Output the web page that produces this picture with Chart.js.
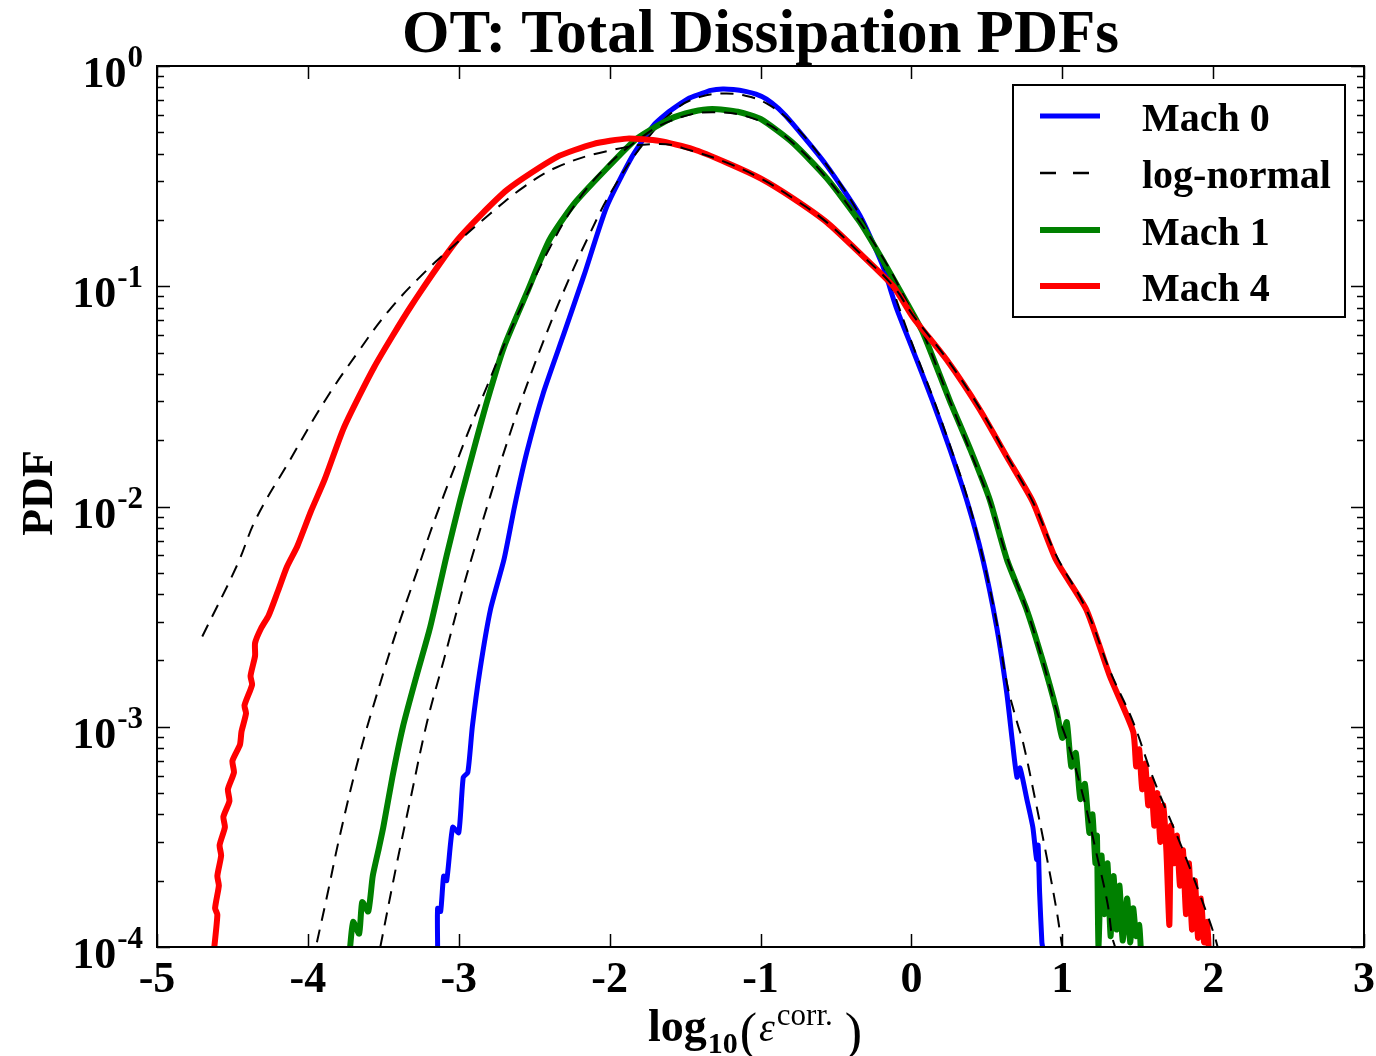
<!DOCTYPE html>
<html>
<head>
<meta charset="utf-8">
<title>OT: Total Dissipation PDFs</title>
<script src="https://cdn.jsdelivr.net/npm/chart.js@4.4.1/dist/chart.umd.min.js"></script>
<style>
  html, body { margin: 0; padding: 0; background: #fff; }
  canvas { display: block; }
</style>
</head>
<body>
<canvas id="pdfChart" width="1376" height="1056"></canvas>
<script>
// values (x = log10 eps, y = PDF)
const mach0X = [-3.14, -3.14, -3.12, -3.10, -3.08, -3.04, -3.00, -2.97, -2.94, -2.91, -2.86, -2.79, -2.70, -2.63, -2.55, -2.44, -2.30, -2.17, -2.02, -1.85, -1.71, -1.62, -1.55, -1.48, -1.40, -1.33, -1.25, -1.18, -1.10, -1.03, -0.96, -0.88, -0.79, -0.56, -0.34, -0.19, -0.10, 0.01, 0.14, 0.255, 0.37, 0.47, 0.566, 0.633, 0.67, 0.70, 0.72, 0.765, 0.805, 0.83, 0.84, 0.85, 0.865, 0.87];
const mach0Y = [1.0e-4, 1.5e-4, 1.45e-4, 2.1e-4, 2.0e-4, 3.5e-4, 3.3e-4, 5.9e-4, 6.2e-4, 1.0e-3, 1.8e-3, 3.4e-3, 5.75e-3, 1.0e-2, 1.75e-2, 3.27e-2, 6.17e-2, 0.112, 0.229, 0.389, 0.537, 0.61, 0.661, 0.71, 0.745, 0.775, 0.787, 0.782, 0.767, 0.745, 0.708, 0.64, 0.55, 0.352, 0.209, 0.124, 0.080, 0.0513, 0.0302, 0.0182, 0.0105, 0.0059, 0.00282, 0.00141, 8.5e-4, 5.9e-4, 6.5e-4, 4.7e-4, 3.5e-4, 2.5e-4, 2.9e-4, 1.76e-4, 1.05e-4, 1.0e-4];

const fit0X = [-3.52, -3.41, -3.32, -3.21, -3.10, -2.97, -2.90, -2.79, -2.68, -2.57, -2.44, -2.29, -2.13, -1.98, -1.75, -1.55, -1.40, -1.25, -1.10, -0.96, -0.79, -0.56, -0.34, -0.19, 0.01, 0.14, 0.255, 0.37, 0.47, 0.566, 0.633, 0.70, 0.74, 0.82, 0.90, 0.96, 0.985, 1.0];
const fit0Y = [1.0e-4, 2.4e-4, 4.7e-4, 1.05e-3, 2.0e-3, 4.3e-3, 6.3e-3, 1.12e-2, 1.95e-2, 3.24e-2, 5.6e-2, 0.100, 0.174, 0.275, 0.468, 0.646, 0.724, 0.750, 0.733, 0.676, 0.55, 0.355, 0.209, 0.126, 0.0537, 0.0316, 0.019, 0.011, 0.0060, 0.00295, 0.00158, 1.05e-3, 8.5e-4, 4.7e-4, 2.5e-4, 1.5e-4, 1.17e-4, 1.0e-4];

const mach1X = [-3.72, -3.70, -3.66, -3.64, -3.60, -3.57, -3.53, -3.50, -3.44, -3.37, -3.28, -3.19, -3.08, -2.99, -2.90, -2.81, -2.70, -2.55, -2.40, -2.24, -2.04, -1.82, -1.60, -1.45, -1.32, -1.15, -1.00, -0.785, -0.56, -0.34, -0.18, -0.03, 0.076, 0.255, 0.39, 0.52, 0.633, 0.765, 0.87, 0.96, 1.00, 1.03, 1.06, 1.09, 1.12, 1.15, 1.18, 1.20, 1.22, 1.23, 1.24, 1.26, 1.28, 1.30, 1.32, 1.34, 1.36, 1.38, 1.40, 1.43, 1.45, 1.47, 1.49, 1.51, 1.52];
const mach1Y = [1.0e-4, 1.3e-4, 1.15e-4, 1.6e-4, 1.45e-4, 2.1e-4, 2.8e-4, 3.5e-4, 5.9e-4, 1.0e-3, 1.7e-3, 2.82e-3, 6.0e-3, 1.07e-2, 1.82e-2, 3.04e-2, 5.3e-2, 9.3e-2, 0.162, 0.235, 0.331, 0.468, 0.575, 0.62, 0.638, 0.62, 0.575, 0.447, 0.309, 0.195, 0.128, 0.084, 0.0617, 0.0302, 0.0182, 0.0107, 0.00575, 0.00339, 0.0020, 0.0012, 8.9e-4, 1.05e-3, 6.6e-4, 7.6e-4, 4.7e-4, 5.5e-4, 3.3e-4, 4.0e-4, 2.4e-4, 3.2e-4, 1.0e-4, 2.6e-4, 1.41e-4, 2.4e-4, 1.12e-4, 2.1e-4, 1.2e-4, 1.9e-4, 1.07e-4, 1.66e-4, 1.05e-4, 1.5e-4, 1.12e-4, 1.26e-4, 1.0e-4];

const fit1X = [-3.94, -3.87, -3.79, -3.655, -3.52, -3.41, -3.28, -3.19, -3.10, -3.01, -2.93, -2.81, -2.70, -2.55, -2.40, -2.24, -2.04, -1.82, -1.60, -1.32, -1.00, -0.785, -0.56, -0.34, -0.163, -0.03, 0.076, 0.255, 0.39, 0.52, 0.633, 0.765, 0.87, 0.96, 1.05, 1.14, 1.23, 1.30, 1.33, 1.35];
const fit1Y = [1.05e-4, 1.74e-4, 3.16e-4, 7.6e-4, 1.58e-3, 2.75e-3, 5.0e-3, 7.6e-3, 1.12e-2, 1.62e-2, 2.24e-2, 3.55e-2, 5.4e-2, 9.1e-2, 0.148, 0.229, 0.339, 0.457, 0.562, 0.617, 0.562, 0.447, 0.309, 0.195, 0.126, 0.085, 0.0617, 0.0302, 0.0178, 0.0105, 0.0059, 0.00339, 0.0020, 0.0012, 7.9e-4, 4.8e-4, 2.6e-4, 1.58e-4, 1.12e-4, 1.0e-4];

const mach4X = [-4.62, -4.60, -4.615, -4.59, -4.60, -4.575, -4.585, -4.55, -4.56, -4.52, -4.53, -4.49, -4.50, -4.45, -4.44, -4.41, -4.42, -4.37, -4.38, -4.35, -4.35, -4.31, -4.26, -4.20, -4.14, -4.07, -3.98, -3.89, -3.76, -3.56, -3.32, -3.01, -2.68, -2.35, -2.11, -1.885, -1.67, -1.45, -1.22, -1.00, -0.785, -0.56, -0.34, -0.12, 0.01, 0.235, 0.454, 0.633, 0.805, 0.96, 1.16, 1.315, 1.47, 1.49, 1.51, 1.53, 1.55, 1.57, 1.59, 1.61, 1.63, 1.65, 1.67, 1.69, 1.71, 1.72, 1.74, 1.76, 1.78, 1.80, 1.82, 1.84, 1.86, 1.88, 1.90, 1.92, 1.94, 1.96, 1.97];
const mach4Y = [1.0e-4, 1.4e-4, 1.5e-4, 1.9e-4, 2.1e-4, 2.6e-4, 2.9e-4, 3.5e-4, 3.9e-4, 4.6e-4, 5.2e-4, 6.2e-4, 7.0e-4, 8.3e-4, 9.5e-4, 1.15e-3, 1.25e-3, 1.55e-3, 1.7e-3, 2.1e-3, 2.4e-3, 2.8e-3, 3.2e-3, 4.1e-3, 5.3e-3, 6.6e-3, 9.5e-3, 1.32e-2, 2.29e-2, 4.3e-2, 8.05e-2, 0.162, 0.274, 0.386, 0.442, 0.468, 0.457, 0.42, 0.363, 0.309, 0.251, 0.195, 0.141, 0.100, 0.0724, 0.0462, 0.0275, 0.0168, 0.0105, 0.0057, 0.0034, 0.0017, 9.5e-4, 6.6e-4, 7.9e-4, 5.2e-4, 6.8e-4, 4.4e-4, 5.75e-4, 3.55e-4, 5.0e-4, 3.0e-4, 4.4e-4, 2.75e-4, 1.26e-4, 3.55e-4, 2.4e-4, 3.2e-4, 1.9e-4, 2.75e-4, 1.41e-4, 2.4e-4, 1.2e-4, 2.0e-4, 1.1e-4, 1.66e-4, 1.05e-4, 1.3e-4, 1.0e-4];

const fit4X = [-4.70, -4.47, -4.34, -4.12, -3.89, -3.67, -3.46, -3.23, -3.01, -2.79, -2.57, -2.35, -2.04, -1.67, -1.45, -1.22, -1.00, -0.785, -0.56, -0.34, -0.12, 0.01, 0.235, 0.454, 0.633, 0.805, 0.96, 1.16, 1.315, 1.47, 1.60, 1.80, 1.96, 2.01, 2.03];
const fit4Y = [2.57e-3, 5.4e-3, 8.9e-3, 1.62e-2, 3.0e-2, 5.0e-2, 7.8e-2, 0.115, 0.158, 0.214, 0.282, 0.347, 0.407, 0.443, 0.411, 0.363, 0.309, 0.251, 0.195, 0.141, 0.100, 0.074, 0.0468, 0.0279, 0.017, 0.0105, 0.0060, 0.0034, 0.0018, 1.05e-3, 5.9e-4, 2.75e-4, 1.41e-4, 1.12e-4, 1.0e-4];

const xTicks = [-5, -4, -3, -2, -1, 0, 1, 2, 3];
const yDecades = [-4, -3, -2, -1, 0];
const legendItems = ['Mach 0', 'log-normal', 'Mach 1', 'Mach 4'];

const serif = '"Liberation Serif", "Times New Roman", serif';
const ctx = document.getElementById('pdfChart').getContext('2d');

function pts(xs, ys) {
  return xs.map((x, i) => ({ x: x, y: ys[i] }));
}

// frame, inward ticks, labels, legend and titles
const decorations = {
  id: 'decorations',
  afterDraw(c) {
    const g = c.ctx;
    const a = c.chartArea;
    const xs = c.scales.x, ys = c.scales.y;
    g.save();
    g.strokeStyle = '#000';
    g.fillStyle = '#000';

    // ticks
    g.lineWidth = 1.5;
    g.beginPath();
    yDecades.forEach(e => {
      for (let m = 1; m <= 9; m++) {
        if (e === 0 && m > 1) break;
        const py = Math.round(ys.getPixelForValue(m * Math.pow(10, e))) + 0.5;
        const len = m === 1 ? 13 : 7;
        g.moveTo(a.left, py); g.lineTo(a.left + len, py);
        g.moveTo(a.right, py); g.lineTo(a.right - len, py);
      }
    });
    xTicks.forEach(v => {
      const px = Math.round(xs.getPixelForValue(v)) + 0.5;
      g.moveTo(px, a.bottom); g.lineTo(px, a.bottom - 13);
      g.moveTo(px, a.top); g.lineTo(px, a.top + 13);
    });
    g.stroke();

    g.lineWidth = 2;
    g.strokeRect(a.left, a.top, a.right - a.left, a.bottom - a.top);

    // x tick labels
    g.font = 'bold 44px ' + serif;
    g.textAlign = 'center';
    g.textBaseline = 'alphabetic';
    xTicks.forEach(v => {
      g.fillText(String(v), xs.getPixelForValue(v), a.bottom + 45);
    });

    // y tick labels 10^e
    yDecades.forEach(e => {
      const py = ys.getPixelForValue(Math.pow(10, e));
      const exp = String(e);
      g.textAlign = 'right';
      g.font = 'bold 31px ' + serif;
      const ew = g.measureText(exp).width;
      g.fillText(exp, 143, py + 1);
      g.font = 'bold 44px ' + serif;
      g.fillText('10', 143 - ew - 1, py + 21);
    });

    // title
    g.textAlign = 'center';
    g.font = 'bold 61px ' + serif;
    g.fillText('OT: Total Dissipation PDFs', (a.left + a.right) / 2, 52);

    // y axis title
    g.save();
    g.translate(52, 493);
    g.rotate(-Math.PI / 2);
    g.font = 'bold 44px ' + serif;
    g.fillText('PDF', 0, 0);
    g.restore();

    // x axis title: log10(eps^corr.)
    let cx = 648;
    const base = 1041;
    g.textAlign = 'left';
    g.font = 'bold 46px ' + serif;
    g.fillText('log', cx, base);
    cx += g.measureText('log').width + 1;
    g.font = 'bold 30px ' + serif;
    g.fillText('10', cx, base + 12);
    cx += g.measureText('10').width + 2;
    g.font = '52px ' + serif;
    g.fillText('(', cx, base + 8);
    cx += g.measureText('(').width + 2;
    g.font = 'italic 40px ' + serif;
    g.fillText('\u03b5', cx, base);
    cx += g.measureText('\u03b5').width + 2;
    g.font = '31px ' + serif;
    g.fillText('corr.', cx, base - 16);
    cx += g.measureText('corr.').width + 12;
    g.font = '52px ' + serif;
    g.fillText(')', cx, base + 8);

    // legend
    g.fillStyle = '#fff';
    g.fillRect(1013, 85, 332, 232);
    g.lineWidth = 2;
    g.strokeRect(1013, 85, 332, 232);
    const rows = [116, 173, 230, 286];
    const styles = [
      { color: '#0000ff', width: 5, dash: [] },
      { color: '#000000', width: 2.5, dash: [16, 17] },
      { color: '#008000', width: 6, dash: [] },
      { color: '#ff0000', width: 6, dash: [] }
    ];
    legendItems.forEach((txt, i) => {
      const s = styles[i];
      g.beginPath();
      g.setLineDash(s.dash);
      g.strokeStyle = s.color;
      g.lineWidth = s.width;
      g.moveTo(1040, rows[i]);
      g.lineTo(1100, rows[i]);
      g.stroke();
      g.setLineDash([]);
      g.fillStyle = '#000';
      g.font = 'bold 40px ' + serif;
      g.textAlign = 'left';
      g.fillText(txt, 1142, rows[i] + 15);
    });
    g.restore();
  }
};

const chart = new Chart(ctx, {
  type: 'line',
  data: {
    datasets: [
      { label: 'Mach 0', data: pts(mach0X, mach0Y), borderColor: '#0000ff', borderWidth: 5, order: 6 },
      { label: 'log-normal', data: pts(fit0X, fit0Y), borderColor: '#000000', borderWidth: 2, borderDash: [13, 9], tension: 0.4, order: 5 },
      { label: 'Mach 1', data: pts(mach1X, mach1Y), borderColor: '#008000', borderWidth: 6, order: 4 },
      { label: 'log-normal (Mach 1)', data: pts(fit1X, fit1Y), borderColor: '#000000', borderWidth: 2, borderDash: [13, 9], tension: 0.4, order: 3 },
      { label: 'Mach 4', data: pts(mach4X, mach4Y), borderColor: '#ff0000', borderWidth: 6, order: 2 },
      { label: 'log-normal (Mach 4)', data: pts(fit4X, fit4Y), borderColor: '#000000', borderWidth: 2, borderDash: [13, 9], tension: 0.4, order: 1 }
    ]
  },
  options: {
    responsive: false,
    animation: false,
    events: [],
    elements: {
      point: { radius: 0 },
      line: { tension: 0.2, fill: false, borderJoinStyle: 'round', borderCapStyle: 'butt' }
    },
    layout: { padding: { top: 66, right: 12, left: 0, bottom: 0 } },
    plugins: {
      legend: { display: false },
      tooltip: { enabled: false },
      title: { display: false }
    },
    scales: {
      x: {
        type: 'linear', min: -5, max: 3,
        ticks: { display: false, stepSize: 1 },
        grid: { display: false, drawTicks: false },
        border: { display: false },
        afterFit: s => { s.height = 109; }
      },
      y: {
        type: 'logarithmic', min: 1e-4, max: 1,
        ticks: { display: false },
        grid: { display: false, drawTicks: false },
        border: { display: false },
        afterFit: s => { s.width = 157; }
      }
    }
  },
  plugins: [decorations]
});
</script>
</body>
</html>
